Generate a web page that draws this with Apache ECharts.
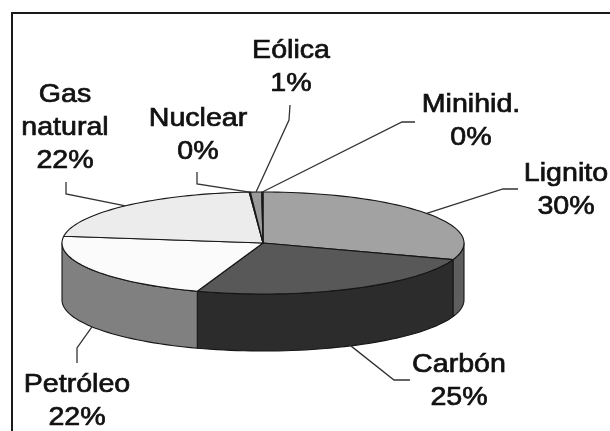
<!DOCTYPE html>
<html><head><meta charset="utf-8">
<style>html,body{margin:0;padding:0;background:#fff}#c{width:610px;height:431px}</style>
<script src="https://cdn.jsdelivr.net/npm/echarts@6/dist/echarts.min.js"></script>
</head><body><div id="c"></div>
<script>
// Data, clockwise from 12 o'clock
const categories = ['Lignito', 'Carbón', 'Petróleo', 'Gas\nnatural', 'Nuclear', 'Eólica', 'Minihid.'];
const shares = [30.3, 25.0, 21.8, 21.8, 0.1, 0.9, 0.1];

// Styles and layout
const topColors  = ['#a2a2a2', '#585858', '#fbfbfb', '#ececec', '#c0c0c0', '#9a9a9a', '#808080'];
const sideColors = ['#5e5e5e', '#2c2c2c', '#808080', '#777777', '#606060', '#4d4d4d', '#404040'];
const labelAnchors = [[566, 189], [459, 380], [77, 400], [65, 127], [198, 134], [291, 66], [471, 120]];
const leaderElbows = [
  [[518, 189], [503, 189]], [[410, 380], [394, 380]], [[77, 363], [77, 348]],
  [[66, 182], [66, 194]], [[197, 172], [197, 184]], [[290, 105], [289, 120]], [[415, 122], [402, 122]]
];
const pie = { cx: 263, cy: 243, rx: 201, ry: 51, depth: 57 };
const total = shares.reduce((a, b) => a + b, 0);
const starts = shares.map((_, i) => shares.slice(0, i).reduce((a, b) => a + b, 0) / total * 360);

const rad = d => d * Math.PI / 180;
const rim = (deg, dy = 0) => [pie.cx + pie.rx * Math.sin(rad(deg)), pie.cy - pie.ry * Math.cos(rad(deg)) + dy];
function arc(a, b, dy = 0) {
  const n = Math.max(2, Math.ceil(Math.abs(b - a) / 2) + 1), out = [];
  for (let k = 0; k < n; k++) out.push(rim(a + (b - a) * k / (n - 1), dy));
  return out;
}
const edge = { stroke: '#161616', lineWidth: 1.1, lineJoin: 'round' };

function renderItem(params, api) {
  const i = params.dataIndex, a0 = starts[i], a1 = a0 + api.value(1) / total * 360, kids = [];
  // front wall: the part of the slice between 90 and 270 degrees
  const w0 = Math.max(a0, 90), w1 = Math.min(a1, 270);
  if (w1 > w0) {
    kids.push({ type: 'polygon', z2: 1,
      shape: { points: arc(w0, w1).concat(arc(w1, w0, pie.depth)) },
      style: Object.assign({ fill: sideColors[i] }, edge) });
  }
  // top face
  if (a1 > a0) {
    kids.push({ type: 'polygon', z2: 2,
      shape: { points: [[pie.cx, pie.cy]].concat(arc(a0, a1)) },
      style: Object.assign({ fill: topColors[i] }, edge) });
  }
  // leader line
  const mid = (a0 + a1) / 2, front = Math.cos(rad(mid)) < 0;
  kids.push({ type: 'polyline', z2: 3,
    shape: { points: leaderElbows[i].concat([rim(mid, front ? pie.depth : 0)]) },
    style: { fill: 'none', stroke: '#333', lineWidth: 1.3 } });
  // label
  kids.push({ type: 'text', z2: 4, x: labelAnchors[i][0], y: labelAnchors[i][1] + 1, scaleX: 1.1,
    style: { text: api.value(0) + '\n' + Math.round(api.value(1)) + '%', fill: '#111', stroke: '#111', lineWidth: 0.7,
      font: '26px "Liberation Sans", Arial, sans-serif', lineHeight: 33, align: 'center', verticalAlign: 'middle' } });
  return { type: 'group', children: kids };
}

const chart = echarts.init(document.getElementById('c'), null, { renderer: 'canvas' });
chart.setOption({
  animation: false,
  backgroundColor: '#fff',
  graphic: [{ type: 'rect', z: -1, shape: { x: 12, y: 13, width: 700, height: 500 },
    style: { fill: '#fff', stroke: '#1a1a1a', lineWidth: 2 } }],
  series: [{
    type: 'custom', coordinateSystem: 'none', silent: true, clip: false,
    data: categories.map((c, i) => [c, shares[i]]),
    encode: { itemName: 0, value: 1 },
    renderItem
  }]
});
</script></body></html>
